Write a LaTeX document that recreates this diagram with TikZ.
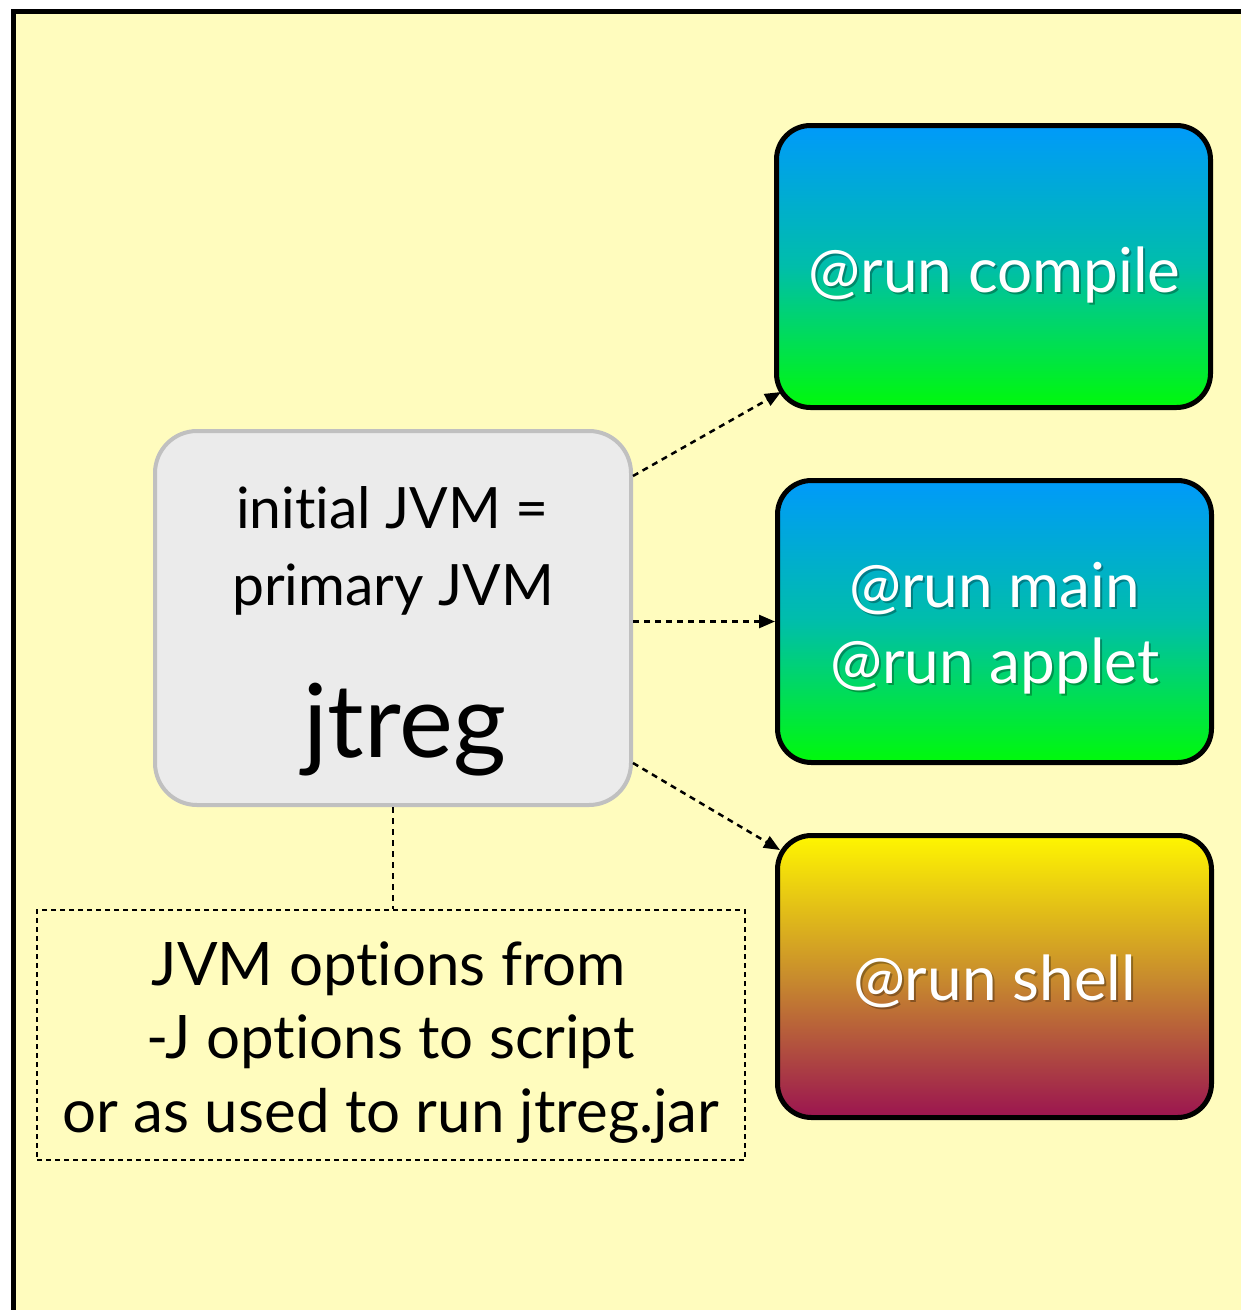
\documentclass[tikz,border=0pt]{standalone}
\usepackage{fontspec}
\setmainfont[Ligatures=NoCommon]{Lato}
\usetikzlibrary{arrows.meta}
\definecolor{bgyellow}{RGB}{255,252,190}
\definecolor{boxgray}{RGB}{235,235,235}
\definecolor{boxedge}{RGB}{192,192,192}
\definecolor{gblue}{RGB}{0,154,250}
\definecolor{gteal}{RGB}{0,190,170}
\definecolor{ggreen}{RGB}{0,250,10}
\definecolor{syellow}{RGB}{255,246,0}
\definecolor{sorange}{RGB}{200,140,45}
\definecolor{spurple}{RGB}{155,20,80}
\tikzset{
  runbox/.style={draw=black, line width=5pt, rounded corners=34pt,
    minimum width=434pt, minimum height=282pt, inner sep=0pt},
  bluegreen/.style={top color=gblue, bottom color=ggreen, middle color=gteal},
  yellowpurple/.style={top color=syellow, bottom color=spurple, middle color=sorange},
  jbox/.style={draw=boxedge, fill=boxgray, line width=4pt, rounded corners=42pt,
    minimum width=476pt, minimum height=374pt, inner sep=0pt},
  optbox/.style={draw=black, line width=2pt, dash pattern=on 5pt off 4pt,
    minimum width=708pt, minimum height=250pt, inner sep=0pt},
  lbl/.style={anchor=base, inner sep=0pt, font=\fontsize{57}{64}\selectfont},
  olbl/.style={anchor=base, inner sep=0pt, font=\fontsize{60}{68}\selectfont},
  wlbl/.style={anchor=base, inner sep=0pt, text=white, font=\fontsize{62}{70}\selectfont},
  slbl/.style={anchor=base, inner sep=0pt, text=black, opacity=0.3, font=\fontsize{62}{70}\selectfont},
  conn/.style={line width=2.5pt, dash pattern=on 6pt off 5pt,
    -{Triangle[length=16pt,width=13pt]}},
  link/.style={line width=2.5pt, dash pattern=on 6pt off 5pt}
}
\begin{document}
\begin{tikzpicture}[x=1pt,y=-1pt]
\useasboundingbox (0,0) rectangle (1241,1310);
\fill[white] (0,0) rectangle (1241,1310);
\draw[line width=5pt, fill=bgyellow] (13.5,11) rectangle (1270,1340);

% run boxes
\node[runbox, bluegreen] (compile) at (993.5,266.5) {};
\node[runbox, bluegreen] (main) at (994.5,621.5) {};
\node[runbox, yellowpurple] (shell) at (994.5,976.5) {};

\node[slbl] (compileS) at (996.5,294.5) {@run compile};
\node[wlbl] (compileT) at (994.5,292) {@run compile};
\node[slbl] (mainS) at (996.5,609.5) {@run main};
\node[wlbl] (mainT) at (994.5,607) {@run main};
\node[slbl] (appletS) at (997,685.5) {@run applet};
\node[wlbl] (appletT) at (995,683) {@run applet};
\node[slbl] (shellS) at (996.5,1002.5) {@run shell};
\node[wlbl] (shellT) at (994.5,1000) {@run shell};

% jtreg box
\node[jbox] (jtreg) at (393,618) {};
\node[lbl] (t1) at (392.5,528) {initial JVM =};
\node[lbl] (t2) at (393,605) {primary JVM};
\node[anchor=base, inner sep=0pt, font=\fontsize{102}{110}\selectfont] (t3) at (405,757) {jtreg};

% options box
\node[optbox] (opts) at (391,1035) {};
\node[olbl] (o1) at (389,985) {JVM options from};
\node[olbl] (o2) at (390.5,1058) {-J options to script};
\node[olbl] (o3) at (391,1132) {or as used to run jtreg.jar};

% connectors
\draw[link] (jtreg.south) -- (jtreg.south |- opts.north);
\draw[conn] ([yshift=142pt]jtreg.east) -- ([xshift=7pt,yshift=18pt]compile.south west);
\draw[conn] (jtreg.east |- main.west) -- (main.west);
\draw[conn] ([yshift=-145pt]jtreg.east) -- ([xshift=5pt,yshift=-17pt]shell.north west);
\end{tikzpicture}
\end{document}
